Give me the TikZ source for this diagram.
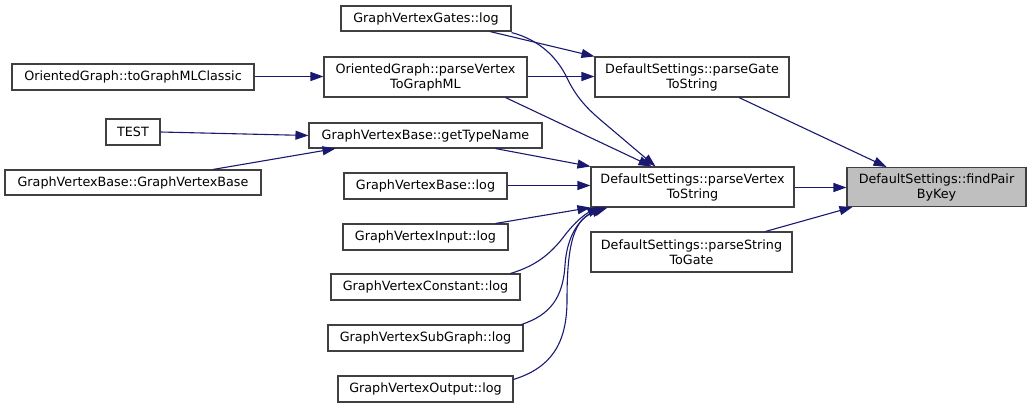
\documentclass[tikz,border=0pt]{standalone}
\usepackage{fontspec}
\setmainfont{DejaVu Sans}
\usetikzlibrary{arrows.meta}
\definecolor{edgeblue}{HTML}{191970}
\definecolor{boxline}{HTML}{404040}
\definecolor{hilite}{HTML}{BFBFBF}
\begin{document}
\begin{tikzpicture}[x=1pt,y=-1pt,
  fn/.style={draw=boxline, line width=1.1pt, fill=white, rectangle, inner sep=0pt,
    align=center, font=\fontsize{12.75}{15}\selectfont},
  fnsel/.style={fn, fill=hilite},
  call/.style={draw=edgeblue, line width=1.1pt, -{Triangle[length=13pt,width=9pt]}},
]
\useasboundingbox (0,0) rectangle (1032,408);

% callers, left column
\node[fn, minimum width=242pt, minimum height=26pt] (classic) at (133,77) {OrientedGraph::toGraphMLClassic};
\node[fn, minimum width=54pt, minimum height=26pt] (test) at (133,132) {TEST};
\node[fn, minimum width=256pt, minimum height=25pt] (gvbctor) at (133,182.5) {GraphVertexBase::GraphVertexBase};

% middle column
\node[fn, minimum width=170pt, minimum height=25pt] (gates) at (426,18.5) {GraphVertexGates::log};
\node[fn, minimum width=203pt, minimum height=40pt] (pvgml) at (425.5,77) {OrientedGraph::parseVertex\\ToGraphML};
\node[fn, minimum width=233pt, minimum height=25pt] (gettype) at (425.5,135.5) {GraphVertexBase::getTypeName};
\node[fn, minimum width=163pt, minimum height=26pt] (gvblog) at (425.5,186) {GraphVertexBase::log};
\node[fn, minimum width=165pt, minimum height=26pt] (input) at (425.5,237) {GraphVertexInput::log};
\node[fn, minimum width=189pt, minimum height=26pt] (const) at (425.5,287) {GraphVertexConstant::log};
\node[fn, minimum width=195pt, minimum height=26pt] (subg) at (425.5,338) {GraphVertexSubGraph::log};
\node[fn, minimum width=175pt, minimum height=26pt] (output) at (425.5,389) {GraphVertexOutput::log};

% DefaultSettings column
\node[fn, minimum width=194pt, minimum height=40pt] (pgts) at (692,77) {DefaultSettings::parseGate\\ToString};
\node[fn, minimum width=203pt, minimum height=40pt] (pvts) at (692.5,187) {DefaultSettings::parseVertex\\ToString};
\node[fn, minimum width=201pt, minimum height=40pt] (pstg) at (691.5,252) {DefaultSettings::parseString\\ToGate};

% the function being documented
\node[fnsel, minimum width=179pt, minimum height=39pt] (find) at (936.5,187) {DefaultSettings::findPair\\ByKey};

% calls
\draw[call] ([yshift=0.5pt]classic.east) -- ([yshift=0.5pt]pvgml.west);
\draw[call] (test.east) -- (gettype.west);
\draw[call] ([xshift=80pt]gvbctor.north) -- ([xshift=-90pt]gettype.south);

\draw[call] ([xshift=64pt]gates.south) -- (pgts.north west);
\draw[call] ([yshift=-1pt]gates.south east) .. controls (540,40) and (558,58) .. (568,80)
  .. controls (578,100) and (590,111) .. (603,122) -- ([xshift=-37pt]pvts.north);
\draw[call] ([yshift=0.5pt]pvgml.east) -- ([yshift=0.5pt]pgts.west);
\draw[call] ([xshift=80pt]pvgml.south) -- ([xshift=-41pt]pvts.north);
\draw[call] ([xshift=70pt]gettype.south) -- (pvts.north west);
\draw[call] ([yshift=0.5pt]gvblog.east) -- ([yshift=0.5pt]gvblog.east -| pvts.west);
\draw[call] ([xshift=70pt]input.north) -- (pvts.south west);
\draw[call] ([xshift=-10pt]const.north east) .. controls (535,266) and (550,255) .. (565,235)
  .. controls (575,222) and (585,214) .. ([xshift=-92pt]pvts.south);
\draw[call] ([xshift=-2pt]subg.north east) .. controls (550,315) and (563,298) .. (565,265)
  .. controls (567,235) and (580,218) .. ([xshift=-88pt]pvts.south);
\draw[call] ([yshift=-4pt]output.north east) .. controls (550,368) and (567,345) .. (567,300)
  .. controls (567,240) and (575,218) .. ([xshift=-85pt]pvts.south);

\draw[call] ([xshift=47pt]pgts.south) -- ([xshift=-50pt]find.north);
\draw[call] ([yshift=-0.5pt]pvts.east) -- ([yshift=-0.5pt]find.west);
\draw[call] ([xshift=74pt]pstg.north) -- ([xshift=6pt]find.south west);
\end{tikzpicture}
\end{document}
